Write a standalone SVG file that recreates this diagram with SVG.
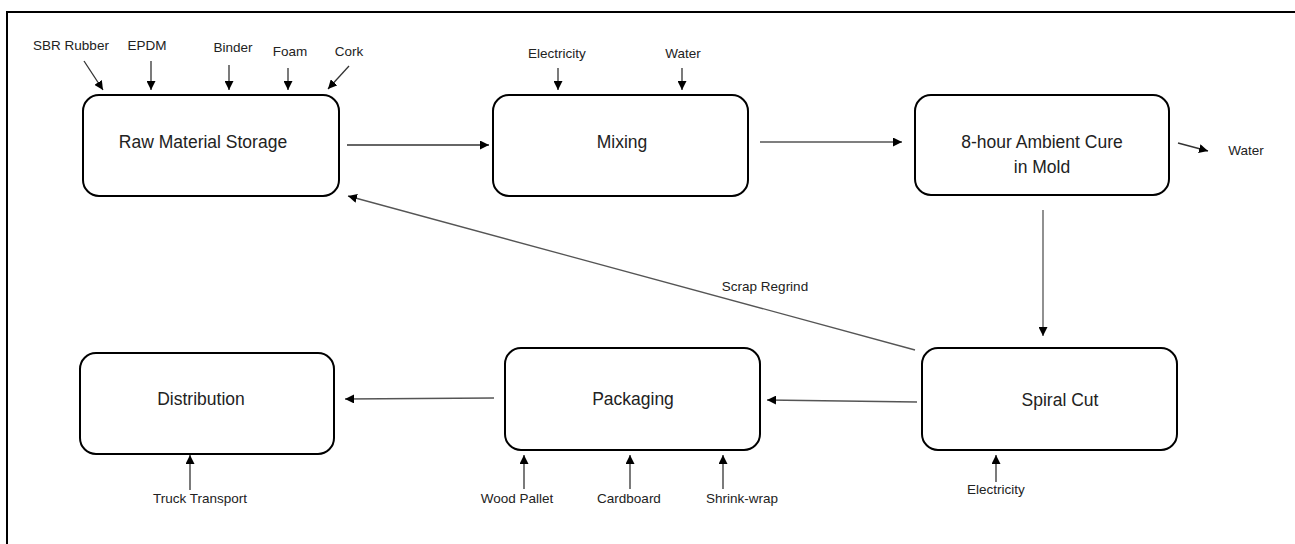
<svg xmlns="http://www.w3.org/2000/svg" width="1295" height="544" viewBox="0 0 1295 544">
<defs>
<marker id="ah" viewBox="0 0 10 10" refX="10" refY="5" markerWidth="9" markerHeight="9" markerUnits="userSpaceOnUse" orient="auto">
<path d="M0,0 L10,5 L0,10 Z" fill="#000"/>
</marker>
<style>
.box{fill:#fff;stroke:#000;stroke-width:2}
.lbl{font-family:"Liberation Sans",Arial,sans-serif;font-size:17.5px;fill:#222;text-anchor:middle}
.sm{font-family:"Liberation Sans",Arial,sans-serif;font-size:13.5px;fill:#222;text-anchor:middle}
.c{stroke:#333;stroke-width:1.3;fill:none;marker-end:url(#ah)}
.g{stroke:#555}
</style>
</defs>
<rect x="0" y="0" width="1295" height="544" fill="#fff"/>
<rect x="7" y="12" width="1300" height="545" fill="none" stroke="#000" stroke-width="2"/>

<g id="raw">
<rect class="box" x="83" y="95" width="256" height="101" rx="16"/>
<text class="lbl" x="203" y="148">Raw Material Storage</text>
</g>
<g id="mixing">
<rect class="box" x="493" y="95" width="255" height="101" rx="16"/>
<text class="lbl" x="622" y="148">Mixing</text>
</g>
<g id="cure">
<rect class="box" x="915" y="95" width="254" height="100" rx="16"/>
<text class="lbl" x="1042" y="148">8-hour Ambient Cure</text>
<text class="lbl" x="1042" y="173">in Mold</text>
</g>
<g id="distribution">
<rect class="box" x="80" y="353" width="254" height="101" rx="16"/>
<text class="lbl" x="201" y="405">Distribution</text>
</g>
<g id="packaging">
<rect class="box" x="505" y="348" width="255" height="102" rx="16"/>
<text class="lbl" x="633" y="405">Packaging</text>
</g>
<g id="spiral">
<rect class="box" x="922" y="348" width="255" height="102" rx="16"/>
<text class="lbl" x="1060" y="406">Spiral Cut</text>
</g>

<g id="labels">
<text class="sm" x="71" y="50">SBR Rubber</text>
<text class="sm" x="147" y="50">EPDM</text>
<text class="sm" x="233" y="52">Binder</text>
<text class="sm" x="290" y="56">Foam</text>
<text class="sm" x="349" y="56">Cork</text>
<text class="sm" x="557" y="58">Electricity</text>
<text class="sm" x="683" y="58">Water</text>
<text class="sm" x="1246" y="155">Water</text>
<text class="sm" x="765" y="291">Scrap Regrind</text>
<text class="sm" x="200" y="503">Truck Transport</text>
<text class="sm" x="517" y="503">Wood Pallet</text>
<text class="sm" x="629" y="503">Cardboard</text>
<text class="sm" x="742" y="503">Shrink-wrap</text>
<text class="sm" x="996" y="494">Electricity</text>
</g>

<g id="connectors">
<line class="c" x1="84" y1="61" x2="103" y2="90"/>
<line class="c" x1="151" y1="61" x2="151" y2="90"/>
<line class="c" x1="229" y1="65" x2="229" y2="90"/>
<line class="c" x1="288" y1="68" x2="288" y2="90"/>
<line class="c" x1="349" y1="66" x2="328" y2="89"/>
<line class="c" x1="558" y1="68" x2="558" y2="90"/>
<line class="c" x1="682" y1="68" x2="682" y2="90"/>
<line class="c" x1="347" y1="145" x2="489" y2="145"/>
<line class="c g" x1="760" y1="142" x2="902" y2="142"/>
<line class="c" x1="1178" y1="143" x2="1208" y2="151"/>
<line class="c g" x1="1043" y1="210" x2="1043" y2="336"/>
<line class="c g" x1="915" y1="350" x2="348" y2="196"/>
<line class="c g" x1="917" y1="402" x2="767" y2="400"/>
<line class="c g" x1="494" y1="398" x2="345" y2="399"/>
<line class="c" x1="190" y1="490" x2="190" y2="455"/>
<line class="c" x1="524" y1="489" x2="524" y2="455"/>
<line class="c" x1="630" y1="489" x2="630" y2="455"/>
<line class="c" x1="723" y1="489" x2="723" y2="455"/>
<line class="c" x1="996" y1="482" x2="996" y2="455"/>
</g>
</svg>
